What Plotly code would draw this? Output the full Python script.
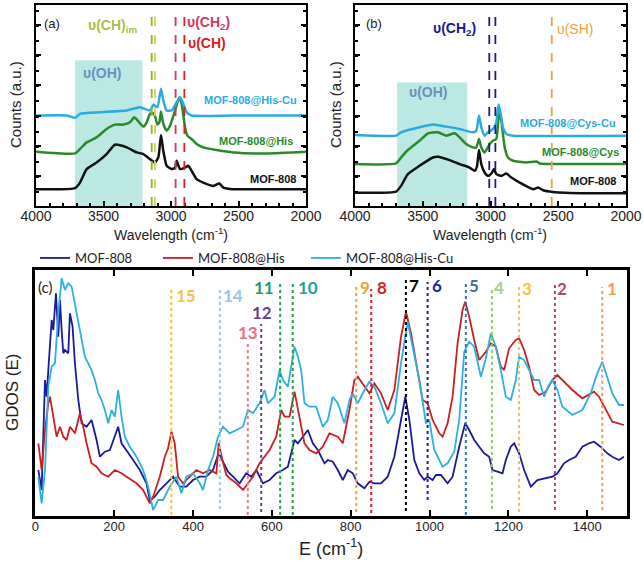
import plotly.graph_objects as go

# ---------------- Panel (a): Raman spectra (MOF-808 / His / His-Cu) ----------------
a_mof_w = [4000, 3711, 3674, 3625, 3551, 3477, 3415, 3328, 3254, 3205, 3156, 3119, 3094, 3074, 3057, 3032, 2995,
           2970, 2958, 2933, 2896, 2872, 2847, 2810, 2761, 2686, 2642, 2612, 2538, 2291, 2000]
a_mof_y = [17.7, 18.7, 24.3, 37.7, 44.3, 52.7, 62, 59.3, 54.3, 52.7, 47.7, 44.3, 49.3, 71.7, 56, 41, 37.7,
           39.3, 46, 37.7, 39.3, 41, 36, 27.7, 24.3, 21, 23.3, 19.3, 17.7, 17.7, 17.7]
a_his_w = [4000, 3711, 3674, 3625, 3551, 3477, 3415, 3353, 3304, 3272, 3242, 3205, 3180, 3156, 3136, 3119, 3101,
           3086, 3074, 3057, 3032, 3007, 2970, 2938, 2921, 2896, 2879, 2847, 2810, 2761, 2662, 2538, 2291, 2000]
a_his_y = [55, 53.3, 57.7, 64.3, 69.3, 77.7, 82, 82, 84.3, 89.3, 85.3, 80, 84.3, 92.7, 93.7, 91, 82,
           84.3, 95, 82.7, 76, 81, 96, 109.3, 102.7, 79.3, 71, 67.7, 62.7, 59.3, 56.7, 54.3, 53.3, 55]
a_hiscu_w = [4000, 3773, 3711, 3674, 3526, 3328, 3230, 3156, 3131, 3101, 3074, 3057, 3032, 2995, 2958, 2933,
             2909, 2884, 2847, 2538, 2000]
a_hiscu_y = [91, 91, 88.7, 92.7, 94.3, 96, 99.3, 96, 101.7, 99.3, 117.7, 106, 96, 96, 104.3, 109.3,
             102.7, 94.3, 91, 91, 91]

# ---------------- Panel (b): Raman spectra (MOF-808 / Cys / Cys-Cu) ----------------
b_mof_w = [4000, 3697, 3660, 3610, 3524, 3425, 3388, 3302, 3228, 3154, 3117, 3100, 3085, 3068, 3043, 3019, 2994,
           2974, 2957, 2920, 2883, 2846, 2784, 2686, 2649, 2612, 2538, 2291, 2000]
b_mof_y = [14.3, 15.3, 21, 32.7, 41, 49.3, 50, 46.7, 42.7, 39.3, 36, 40.3, 56.7, 42.7, 34.3, 31, 33.3,
           37.7, 32.7, 31, 33.3, 29.3, 24.3, 17.7, 19.3, 16.7, 15, 13.7, 13.7]
b_cys_w = [4000, 3697, 3660, 3610, 3524, 3462, 3388, 3327, 3265, 3228, 3179, 3130, 3105, 3085, 3068, 3043, 3006,
           2982, 2957, 2945, 2932, 2920, 2895, 2871, 2834, 2735, 2661, 2636, 2538, 2000]
b_cys_y = [42.7, 43.3, 49.3, 56.7, 66, 73.3, 74.3, 71, 73.3, 69.3, 62.7, 59.3, 59.3, 67.7, 59.3, 54.3, 62.7,
           66, 67.7, 82.7, 96, 86, 59.3, 49.3, 46, 44.3, 45.3, 43.3, 42.7, 42.7]
b_cyscu_w = [4000, 3697, 3660, 3524, 3425, 3327, 3228, 3130, 3105, 3085, 3068, 3043, 3019, 2982, 2957, 2940,
             2925, 2908, 2883, 2834, 2000]
b_cyscu_y = [71.7, 71, 74.3, 79.3, 82, 80, 77.7, 74.3, 76, 91, 79.3, 71, 74.3, 77.7, 84.3, 102,
             92.7, 79.3, 72.7, 71, 71]

# ---------------- Panel (c): GDOS ----------------
c_mof_e = [7.7, 16.1, 24.6, 28.8, 33, 41.5, 45.7, 52.4, 58.3, 62.6, 66.8, 71, 75.2, 83.6, 87.9, 94.6, 100.5, 109,
           117.4, 130.1, 142.7, 155.4, 163.8, 176.5, 189.1, 201.8, 210.2, 218.7, 231.3, 248.2, 265.1, 282, 290.4,
           303.1, 315.7, 332.6, 349.5, 366.4, 383.2, 400.1, 417, 433.9, 450.7, 465.1, 476.1, 488.7, 501.4, 518.3,
           535.1, 547.8, 560.5, 577.3, 594.2, 611.1, 628, 640.6, 657.5, 666, 678.6, 691.3, 703.9, 716.6, 733.5,
           741.9, 754.6, 767.2, 779.9, 792.5, 805.2, 817.8, 834.7, 847.4, 860, 876.9, 893.8, 910.7, 927.6, 938.5,
           948.7, 961.3, 974, 986.6, 995.1, 1007.7, 1016.2, 1028.8, 1045.7, 1058.4, 1075.2, 1090.4, 1100.6,
           1113.2, 1125.9, 1138.5, 1151.2, 1159.6, 1172.3, 1185, 1193.4, 1206, 1214.5, 1227.1, 1239.8, 1256.7,
           1273.5, 1294.7, 1311.5, 1324.2, 1341, 1353.7, 1370.6, 1387.5, 1404.4, 1417, 1433.9, 1450.8, 1463.4,
           1480.3, 1493]
c_mof_g = [46, 26, 136, 119.3, 146, 196, 186, 222.7, 179.3, 216, 186, 162.7, 166, 162.7, 202.7, 189.3, 152.7, 116,
           92.7, 89.3, 96, 76, 59.3, 64.3, 66, 79.3, 89.3, 72.7, 66, 56, 46, 32.7, 16,
           19.3, 26, 32.7, 39.3, 29.3, 29.3, 36, 39.3, 39.3, 46, 63, 54.3, 44.3, 39.3, 32.7,
           42.7, 39.3, 46, 32.7, 36, 42.7, 46, 49.3, 76, 72.7, 79.3, 86, 72.7, 66, 52.7,
           56, 54.3, 46, 36, 46, 42.7, 32.7, 27.7, 34.3, 32.7, 32.7, 39.3, 59.3, 96, 119.3,
           96, 56, 42.7, 36, 39.3, 36, 41, 41, 32.7, 39.3, 69.3, 92.7, 86,
           76, 69.3, 62.7, 59.3, 46, 44.3, 42.7, 56, 69.3, 72.7, 62.7, 46, 29.3,
           36, 37.7, 39.3, 42.7, 52.7, 56, 59.3, 69.3, 72.7, 74.3, 69.3, 62.7, 59.3,
           56, 59.3]

c_his_e = [7.7, 16.1, 24.6, 33, 37.2, 45.7, 54.1, 62.6, 71, 79.4, 87.9, 100.5, 113.2, 121.6, 130.1, 142.7, 155.4,
           168, 184.9, 201.8, 218.7, 231.3, 244, 256.7, 273.5, 290.4, 298.8, 315.7, 328.4, 336.8, 345.3, 353.7,
           362.1, 374.8, 391.7, 408.6, 425.4, 442.3, 459.2, 465.1, 474.4, 484.5, 493, 509.8, 526.7, 539.4, 552,
           568.9, 594.2, 611.1, 623.7, 632.2, 644.8, 657.5, 670.2, 682.8, 695.5, 712.4, 729.2, 746.1, 767.2,
           779.9, 796.7, 809.4, 817.8, 830.5, 847.4, 860, 876.9, 893.8, 910.7, 927.6, 940.2, 952.9, 969.8, 982.4,
           995.1, 1007.7, 1024.6, 1033.1, 1045.7, 1058.4, 1071, 1083.7, 1090.4, 1100.6, 1113.2, 1125.9, 1142.8,
           1155.4, 1168.1, 1180.7, 1189.2, 1201.8, 1218.7, 1227.1, 1239.8, 1252.5, 1265.1, 1277.8, 1294.7,
           1311.5, 1324.2, 1345.3, 1362.2, 1387.5, 1417, 1429.7, 1446.6, 1463.4, 1493]
c_his_g = [72.7, 46, 86, 112.7, 119.3, 99.3, 79.3, 89.3, 79.3, 76, 89.3, 82.7, 102.7, 89.3, 72.7, 52.7, 49.3,
           42.7, 39.3, 46, 42.7, 39.3, 36, 32.7, 26, 12.7, 19.3, 39.3, 59.3, 67.7, 84.3, 72.7,
           39.3, 32.7, 39.3, 46, 42.7, 46, 42.7, 73, 56, 41, 37.7, 32.7, 26, 32.7, 39.3,
           52.7, 66, 79.3, 106, 99.3, 99.3, 124.3, 99.3, 72.7, 66, 62.7, 69.3, 82.7, 79.3,
           72.7, 106, 136, 139.3, 132.7, 122.7, 132.7, 122.7, 106, 126, 179.3, 204.3, 182.7, 142.7, 116,
           112.7, 96, 82.7, 79.3, 92.7, 119.3, 172.7, 206, 214.3, 199.3, 176, 156, 164.3,
           172.7, 169.3, 149.3, 146, 167.7, 176, 177.7, 166, 149.3, 126, 121, 124.3,
           136, 141, 132.7, 126, 117.7, 124.3, 119.3, 106, 94.3, 91]

c_hiscu_e = [7.7, 16.1, 24.6, 33, 41.5, 49.9, 58.3, 66.8, 75.2, 83.6, 92.1, 100.5, 109, 117.4, 125.8, 134.3, 142.7,
             151.2, 159.6, 168, 176.5, 184.9, 193.4, 201.8, 210.2, 218.7, 227.1, 239.8, 256.7, 273.5, 286.2, 298.8,
             311.5, 324.2, 341, 357.9, 370.6, 383.2, 400.1, 417, 425.4, 438.1, 450.7, 463.4, 476.1, 493, 509.8,
             526.7, 539.4, 552, 568.9, 581.5, 590, 606.9, 619.5, 628, 640.6, 657.5, 666, 674.4, 682.8, 695.5, 712.4,
             729.2, 741.9, 754.5, 767.2, 784.1, 796.7, 805.2, 817.8, 830.5, 847.4, 860, 876.9, 893.8, 910.7, 927.6,
             944.4, 957.1, 974, 990.8, 999.3, 1012, 1033, 1045.7, 1062.6, 1075.2, 1087.9, 1100.6, 1113.2, 1130.1,
             1142.8, 1155.4, 1168.1, 1180.7, 1193.4, 1206, 1218.7, 1227.1, 1239.8, 1252.5, 1265.1, 1277.8, 1290.4,
             1303.1, 1311.5, 1324.2, 1336.8, 1362.2, 1387.5, 1408.6, 1425.4, 1438.1, 1450.8, 1463.4, 1480.3, 1493]
c_hiscu_g = [39.3, 12.7, 46, 129.3, 149.3, 152.7, 202.7, 237.7, 226, 232.7, 229.3, 212.7, 192.7, 179.3, 159.3, 152.7, 146,
             136, 122.7, 116, 106, 92.7, 106, 99.3, 126, 99.3, 79.3, 69.3, 59.3, 46, 29.3, 6,
             16, 16, 29.3, 39.3, 22.7, 39.3, 42.7, 32.7, 26, 46, 59.3, 79.3, 89.3, 82.7, 86,
             89.3, 106, 102.7, 112.7, 126, 112.7, 119.3, 146, 136, 129.3, 169.3, 159.3, 146, 112.7, 109.3, 109.3,
             89.3, 96, 119.3, 112.7, 92.7, 116, 122.7, 112.7, 122.7, 134.3, 129.3, 112.7, 92.7, 102.7, 152.7,
             194.3, 169.3, 136, 92.7, 96, 66, 49.3, 52.7, 64.3, 96, 164.3, 174.3, 169.3, 139.3,
             157.7, 182.7, 169.3, 146, 119.3, 116, 136, 159.3, 156, 146, 136, 136, 119.3,
             131, 136, 126, 109.3, 101, 106, 122.7, 142.7, 154.3, 139.3, 122.7, 111, 111]

# assigned peaks (panel c)
peak_labels = ["1", "2", "3", "4", "5", "6", "7", "8", "9", "10", "11", "12", "13", "14", "15"]
peak_pos = [1438, 1318, 1227, 1158, 1092, 995, 940, 852, 814, 653, 621, 573, 539, 468, 345]
peak_top = [229, 232, 232, 227, 234, 234, 239, 227, 232, 232, 232, 192, 174, 227, 227]
peak_bottom = [6, 6, 4, 7, 1, 16, 5, 3, 4, 1, 1, 4, 1, 7, 1]
peak_label_e = [1463, 1337, 1248, 1176, 1113, 1020, 961, 880, 835, 691, 581, 575, 539, 501, 383]
peak_label_g = [228, 228, 228, 229, 231, 231, 231, 229, 229, 229, 229, 204, 184, 221, 221]
peak_line_colors = ["#f0a050", "#a84a6a", "#f5c242", "#8fca6a", "#2e75b6", "#1f1f9f", "#000000", "#d62222",
                    "#f0a040", "#2ca048", "#2ca048", "#6a3d8f", "#f07a88", "#9dc3e6", "#f5c242"]
peak_text_colors = ["#f0a050", "#b5485a", "#f5c242", "#a8d08d", "#41719c", "#1f1f9f", "#000000", "#d62222",
                    "#f0a040", "#20a39e", "#1a9a78", "#6a3d8f", "#e8707f", "#9dc3e6", "#f2c14e"]

# vibrational markers for panels a/b
a_marker_pos = [3143, 3119, 2966, 2901]
a_marker_colors = ["#9aab3a", "#d4d24a", "#d2385a", "#e02020"]
b_marker_pos = [3009, 2964, 2548]
b_marker_colors = ["#1a1a8c", "#1a1a8c", "#f0a040"]
a_band = [3711, 3212, 146]
b_band = [3689, 3171, 124]

BLACK = "#111111"
GREEN = "#2a8a2a"
CYAN = "#29abe2"
NAVY = "#1a1a9a"
RED = "#cc1f1f"
LBLUE = "#2bb0e0"

fig = go.Figure()

W, H = 644, 565
def px(x):
    return x / W
def py(y):
    return 1 - y / H

# panel a
for w, y, c in [(a_mof_w, a_mof_y, BLACK), (a_his_w, a_his_y, GREEN), (a_hiscu_w, a_hiscu_y, CYAN)]:
    fig.add_trace(go.Scatter(x=w, y=y, mode="lines", line=dict(color=c, width=2.5, shape="spline", smoothing=0.5),
                             xaxis="x", yaxis="y", showlegend=False, hoverinfo="skip"))
# panel b
for w, y, c in [(b_mof_w, b_mof_y, BLACK), (b_cys_w, b_cys_y, GREEN), (b_cyscu_w, b_cyscu_y, CYAN)]:
    fig.add_trace(go.Scatter(x=w, y=y, mode="lines", line=dict(color=c, width=2.5, shape="spline", smoothing=0.5),
                             xaxis="x2", yaxis="y2", showlegend=False, hoverinfo="skip"))
# panel c
fig.add_trace(go.Scatter(x=c_mof_e, y=c_mof_g, mode="lines", name="MOF-808", line=dict(color=NAVY, width=1.8),
                         xaxis="x3", yaxis="y3", legend="legend"))
fig.add_trace(go.Scatter(x=c_his_e, y=c_his_g, mode="lines", name="MOF-808@His", line=dict(color=RED, width=1.8),
                         xaxis="x3", yaxis="y3", legend="legend2"))
fig.add_trace(go.Scatter(x=c_hiscu_e, y=c_hiscu_g, mode="lines", name="MOF-808@His-Cu",
                         line=dict(color=LBLUE, width=1.8), xaxis="x3", yaxis="y3", legend="legend3"))

shapes = []
annotations = []

# bands
shapes.append(dict(type="rect", xref="x", yref="y", x0=a_band[0], x1=a_band[1], y0=1, y1=a_band[2],
                   fillcolor="rgba(160,222,216,0.7)", line=dict(width=0), layer="below"))
shapes.append(dict(type="rect", xref="x2", yref="y2", x0=b_band[0], x1=b_band[1], y0=1, y1=b_band[2],
                   fillcolor="rgba(160,222,216,0.7)", line=dict(width=0), layer="below"))
for p, c in zip(a_marker_pos, a_marker_colors):
    shapes.append(dict(type="line", xref="x", yref="y", x0=p, x1=p, y0=1, y1=198,
                       line=dict(color=c, width=1.8, dash="dash")))
for i, (p, c) in enumerate(zip(b_marker_pos, b_marker_colors)):
    shapes.append(dict(type="line", xref="x2", yref="y2", x0=p, x1=p, y0=1, y1=198 if i < 2 else 195,
                       line=dict(color=c, width=1.8, dash="dash")))
for p, t, b, c in zip(peak_pos, peak_top, peak_bottom, peak_line_colors):
    shapes.append(dict(type="line", xref="x3", yref="y3", x0=p, x1=p, y0=b, y1=t,
                       line=dict(color=c, width=2, dash="dot")))
for lab, e, g, c in zip(peak_labels, peak_label_e, peak_label_g, peak_text_colors):
    annotations.append(dict(x=e, y=g, xref="x3", yref="y3", text="<b>%s</b>" % lab, showarrow=False,
                            xanchor="center", yanchor="middle",
                            font=dict(family="Lato", size=17, color=c)))

def ann(x, y, xr, yr, text, size, color, xanchor="center", family="Liberation Sans", bold=True, angle=0):
    t = "<b>%s</b>" % text if bold else text
    annotations.append(dict(x=x, y=y, xref=xr, yref=yr, text=t, showarrow=False, xanchor=xanchor,
                            yanchor="middle", textangle=angle,
                            font=dict(family=family, size=size, color=color)))

# panel a texts
ann(3879, 183, "x", "y", "(a)", 13, "#222", bold=False)
ann(3430, 180, "x", "y", "υ(CH)<sub>im</sub>", 14, "#a8bf48")
ann(2724, 183, "x", "y", "υ(CH<sub>2</sub>)", 14, "#d2385a")
ann(2736, 163, "x", "y", "υ(CH)", 14, "#d42020")
ann(3514, 133, "x", "y", "υ(OH)", 14, "#6d8fc0")
ann(2053, 106, "x", "y", "MOF-808@His-Cu", 11, CYAN, xanchor="right")
ann(2082, 66, "x", "y", "MOF-808@His", 11, GREEN, xanchor="right")
ann(2062, 28, "x", "y", "MOF-808", 11, BLACK, xanchor="right")
# panel b texts
ann(3857, 183, "x2", "y2", "(b)", 13, "#222", bold=False)
ann(3265, 177, "x2", "y2", "υ(CH<sub>2</sub>)", 14, "#1a1a8c")
ann(2377, 177, "x2", "y2", "υ(SH)", 14, "#f0a040", bold=False)
ann(3462, 114, "x2", "y2", "υ(OH)", 14, "#6d8fc0")
ann(2062, 84, "x2", "y2", "MOF-808@Cys-Cu", 11, CYAN, xanchor="right")
ann(2040, 55, "x2", "y2", "MOF-808@Cys", 11, GREEN, xanchor="right")
ann(2062, 26, "x2", "y2", "MOF-808", 11, BLACK, xanchor="right")
# panel c label
ann(25, 229, "x3", "y3", "(c)", 15, "#222", family="Lato", bold=False)

# axis titles
ann(px(171), py(234), "paper", "paper", "Wavelength (cm<sup>-1</sup>)", 14, "#222", bold=False)
ann(px(490), py(234), "paper", "paper", "Wavelength (cm<sup>-1</sup>)", 14, "#222", bold=False)
ann(px(15), py(105), "paper", "paper", "Counts (a.u.)", 15, "#222", bold=False, angle=-90)
ann(px(335), py(105), "paper", "paper", "Counts (a.u.)", 15, "#222", bold=False, angle=-90)
ann(px(13), py(393), "paper", "paper", "GDOS (E)", 17, "#222", bold=False, angle=-90)
ann(px(331), py(547), "paper", "paper", "E (cm<sup>-1</sup>)", 18, "#222", bold=False)

spec_x = dict(range=[4000, 2000], tickvals=[4000, 3500, 3000, 2500, 2000], ticks="inside", ticklen=5,
              tickwidth=1.5, tickcolor="black", showline=True, linecolor="black", linewidth=2, mirror=True,
              showgrid=False, zeroline=False, automargin=False, ticklabelstandoff=-4,
              tickfont=dict(family="Liberation Sans", size=14, color="#222"),
              minor=dict(ticks="inside", dtick=100, ticklen=3, tickcolor="black"))
spec_y = dict(range=[1, 201], showticklabels=False, ticks="inside", ticklen=5, tickwidth=1.5, tickcolor="black",
              dtick=30, tick0=1, showline=True, linecolor="black", linewidth=2, mirror="ticks",
              showgrid=False, zeroline=False, automargin=False,
              minor=dict(ticks="inside", dtick=15, ticklen=3, tickcolor="black"))

leg_font = dict(family="Lato", size=13, color="#222")
fig.update_layout(
    template="none",
    width=W, height=H, margin=dict(l=0, r=0, t=0, b=0, pad=0, autoexpand=False),
    paper_bgcolor="white", plot_bgcolor="white",
    xaxis=dict(domain=[px(36), px(306)], anchor="y", **spec_x),
    yaxis=dict(domain=[py(206), py(5)], anchor="x", **spec_y),
    xaxis2=dict(domain=[px(355), px(626)], anchor="y2", **spec_x),
    yaxis2=dict(domain=[py(206), py(5)], anchor="x2", **spec_y),
    xaxis3=dict(domain=[px(35.3), px(626.7)], anchor="y3", range=[0, 1500],
                tickvals=[0, 200, 400, 600, 800, 1000, 1200, 1400],
                ticks="inside", ticklen=6, tickwidth=2, tickcolor="black", showline=True, linecolor="black",
                linewidth=2.5, mirror="ticks", showgrid=False, zeroline=False, automargin=False,
                ticklabelstandoff=-3,
                tickfont=dict(family="Liberation Sans", size=13, color="#222")),
    yaxis3=dict(domain=[py(516), py(270)], anchor="x3", range=[0, 246], showticklabels=False, ticks="",
                showline=True, linecolor="black", linewidth=2.5, mirror=True, showgrid=False, zeroline=False,
                automargin=False),
    shapes=shapes, annotations=annotations,
    legend=dict(x=px(35), y=py(258), xanchor="left", yanchor="middle", bgcolor="rgba(0,0,0,0)", font=leg_font),
    legend2=dict(x=px(158), y=py(258), xanchor="left", yanchor="middle", bgcolor="rgba(0,0,0,0)", font=leg_font),
    legend3=dict(x=px(306), y=py(258), xanchor="left", yanchor="middle", bgcolor="rgba(0,0,0,0)", font=leg_font),
)

fig.write_html("out.html", config={"displayModeBar": False},
               post_script="document.body.style.margin='0px';document.body.style.overflow='hidden';")
